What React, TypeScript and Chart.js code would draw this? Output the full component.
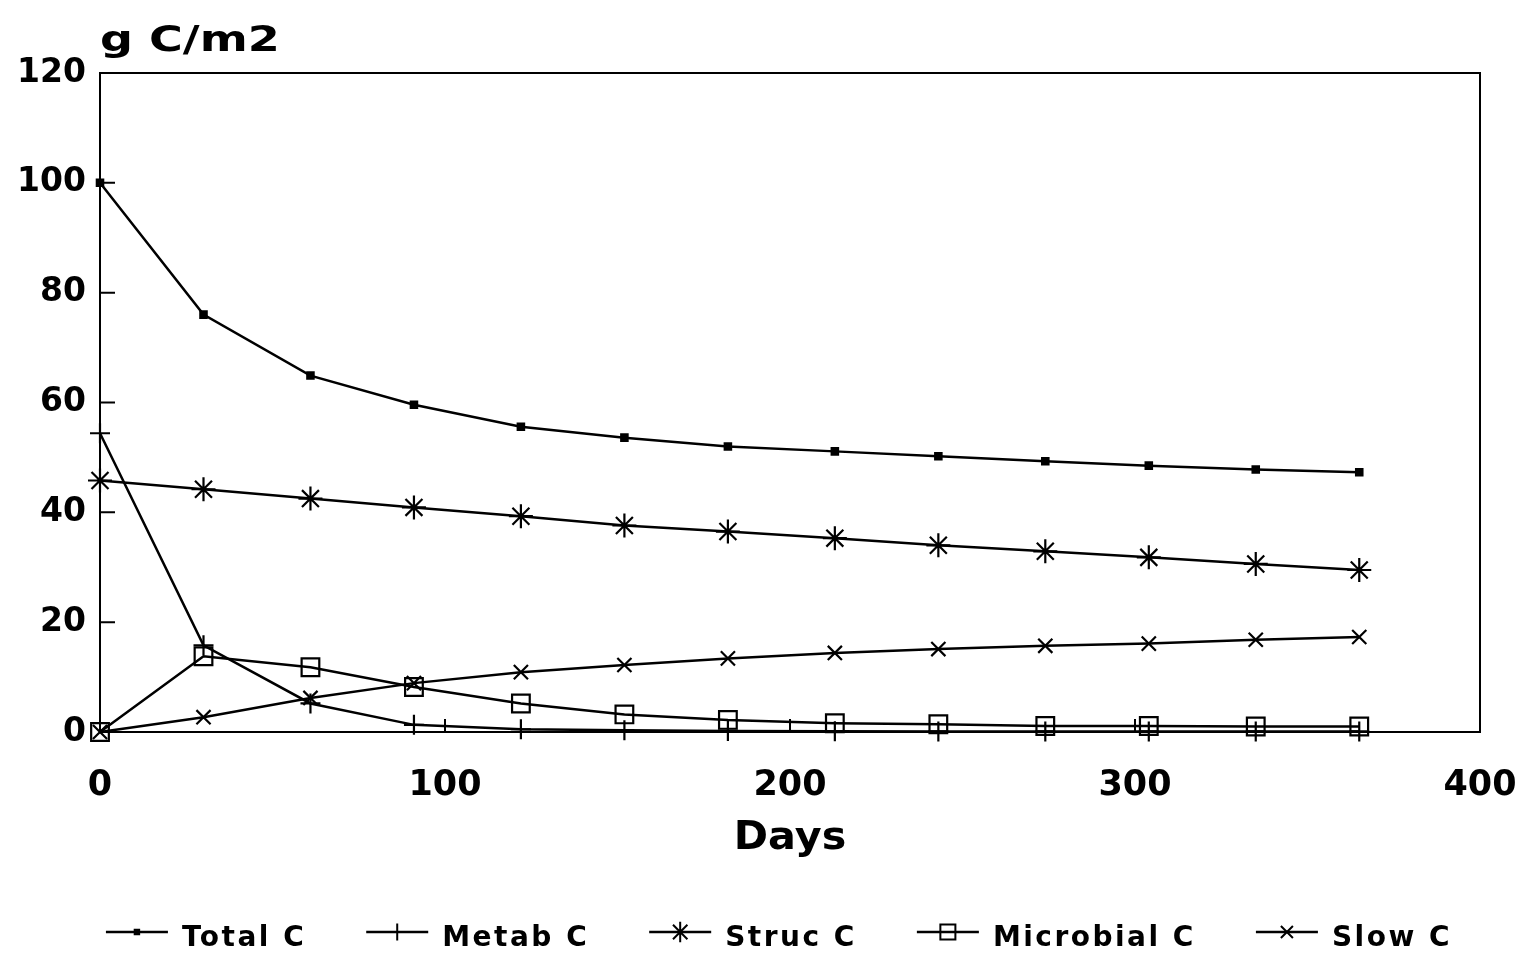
import React, { useEffect, useRef } from 'react';
import { Chart, registerables } from 'chart.js';
import { drawPoint } from 'chart.js/helpers';

Chart.register(...registerables);

// ---- data ----
const days = [0, 30, 61, 91, 122, 152, 182, 213, 243, 274, 304, 335, 365];
const totalC = [100, 76.0, 64.9, 59.6, 55.6, 53.6, 52.0, 51.1, 50.2, 49.3, 48.5, 47.8, 47.3];
const metabC = [54.4, 15.8, 5.2, 1.3, 0.5, 0.3, 0.2, 0.15, 0.1, 0.1, 0.1, 0.1, 0.1];
const strucC = [45.8, 44.2, 42.5, 40.9, 39.3, 37.6, 36.5, 35.3, 34.0, 32.9, 31.8, 30.6, 29.5];
const microbialC = [0, 13.8, 11.8, 8.2, 5.2, 3.2, 2.2, 1.6, 1.4, 1.1, 1.1, 1.0, 1.0];
const slowC = [0, 2.7, 6.2, 8.9, 10.9, 12.2, 13.4, 14.4, 15.1, 15.7, 16.1, 16.8, 17.3];

const seriesNames = ['Total C', 'Metab C', 'Struc C', 'Microbial C', 'Slow C'];
const yTicks = [0, 20, 40, 60, 80, 100, 120];
const xTicks = [0, 100, 200, 300, 400];
const yTitle = 'g C/m2';
const xTitle = 'Days';

const FONT = "'DejaVu Sans', sans-serif";

type Marker = { pointStyle: string; radius: number; fill: string };
const markers: Marker[] = [
  { pointStyle: 'rect', radius: 4.5, fill: '#000' },
  { pointStyle: 'cross', radius: 10, fill: 'rgba(0,0,0,0)' },
  { pointStyle: 'star', radius: 12, fill: 'rgba(0,0,0,0)' },
  { pointStyle: 'rect', radius: 12.5, fill: 'rgba(0,0,0,0)' },
  { pointStyle: 'crossRot', radius: 10, fill: 'rgba(0,0,0,0)' },
];

const seriesValues = [totalC, metabC, strucC, microbialC, slowC];

const decorPlugin = {
  id: 'decor',
  beforeDatasetsDraw(chart: any) {
    const { ctx, chartArea: a, scales } = chart;
    ctx.save();
    ctx.strokeStyle = '#000';
    ctx.lineWidth = 2;
    ctx.strokeRect(a.left, a.top, a.right - a.left, a.bottom - a.top);
    ctx.beginPath();
    for (const v of yTicks) {
      if (v === yTicks[0] || v === yTicks[yTicks.length - 1]) continue;
      const y = scales.y.getPixelForValue(v);
      ctx.moveTo(a.left, y);
      ctx.lineTo(a.left + 15, y);
    }
    for (const v of xTicks) {
      if (v === xTicks[0] || v === xTicks[xTicks.length - 1]) continue;
      const x = scales.x.getPixelForValue(v);
      ctx.moveTo(x, a.bottom);
      ctx.lineTo(x, a.bottom - 13);
    }
    ctx.stroke();
    ctx.restore();
  },
  afterDraw(chart: any) {
    const { ctx, chartArea: a } = chart;
    ctx.save();
    ctx.fillStyle = '#000';
    ctx.textBaseline = 'alphabetic';

    // y title
    ctx.font = `bold 36px ${FONT}`;
    ctx.textAlign = 'left';
    ctx.save();
    ctx.translate(a.left, 51);
    ctx.scale(1.28, 1);
    ctx.fillText(yTitle, 0, 0);
    ctx.restore();

    // x title
    ctx.font = `bold 39px ${FONT}`;
    ctx.textAlign = 'center';
    ctx.save();
    ctx.translate((a.left + a.right) / 2, 849);
    ctx.scale(1.06, 1);
    ctx.fillText(xTitle, 0, 0);
    ctx.restore();

    // legend
    ctx.font = `bold 28px ${FONT}`;
    (ctx as any).letterSpacing = '2.5px';
    ctx.textAlign = 'left';
    const lineLen = 62;
    const gapText = 14;
    const gapItem = 60;
    const widths = seriesNames.map((n) => ctx.measureText(n).width);
    const total = widths.reduce((s, w) => s + lineLen + gapText + w, 0) + gapItem * (seriesNames.length - 1);
    let x = 779 - total / 2;
    const ly = 932;
    const ty = 946;
    seriesNames.forEach((name, i) => {
      ctx.strokeStyle = '#000';
      ctx.lineWidth = 2.5;
      ctx.beginPath();
      ctx.moveTo(x, ly);
      ctx.lineTo(x + lineLen, ly);
      ctx.stroke();
      const m = markers[i];
      ctx.fillStyle = m.fill;
      ctx.strokeStyle = '#000';
      ctx.lineWidth = 2;
      const r = i === 0 ? m.radius * 0.7 : m.radius * 0.85;
      drawPoint(ctx, { pointStyle: m.pointStyle as any, rotation: 0, radius: r, borderWidth: 2 } as any, x + lineLen / 2, ly);
      ctx.fillStyle = '#000';
      ctx.fillText(name, x + lineLen + gapText, ty);
      x += lineLen + gapText + widths[i] + gapItem;
    });
    ctx.restore();
  },
};

export default function App() {
  const ref = useRef<HTMLCanvasElement | null>(null);
  useEffect(() => {
    if (!ref.current) return;
    const datasets = seriesNames.map((name, i) => ({
      label: name,
      data: days.map((d, k) => ({ x: d, y: seriesValues[i][k] })),
      borderColor: '#000',
      borderWidth: 2.5,
      backgroundColor: markers[i].fill,
      pointStyle: markers[i].pointStyle as any,
      pointRadius: markers[i].radius,
      pointBorderWidth: 2.2,
      pointBorderColor: '#000',
      pointBackgroundColor: markers[i].fill,
      tension: 0,
      fill: false,
      clip: false as any,
    }));
    const chart = new Chart(ref.current, {
      type: 'line',
      data: { datasets },
      options: {
        animation: false,
        responsive: false,
        maintainAspectRatio: false,
        layout: { padding: { left: 0, top: 73, right: 58, bottom: 0 } },
        plugins: { legend: { display: false }, tooltip: { enabled: false }, title: { display: false } },
        scales: {
          x: {
            type: 'linear',
            min: xTicks[0],
            max: xTicks[xTicks.length - 1],
            afterBuildTicks: (s: any) => { s.ticks = xTicks.map((v) => ({ value: v })); },
            afterFit: (s: any) => { s.height = 227; s.paddingLeft = 0; s.paddingRight = 0; },
            grid: { display: false, drawTicks: false },
            border: { display: false },
            ticks: { color: '#000', font: { family: FONT, size: 35, weight: 'bold' }, padding: 33, maxRotation: 0 },
          },
          y: {
            type: 'linear',
            min: yTicks[0],
            max: yTicks[yTicks.length - 1],
            afterBuildTicks: (s: any) => { s.ticks = yTicks.map((v) => ({ value: v })); },
            afterFit: (s: any) => { s.width = 100; s.paddingTop = 0; s.paddingBottom = 0; },
            grid: { display: false, drawTicks: false },
            border: { display: false },
            ticks: { color: '#000', font: { family: FONT, size: 33, weight: 'bold' }, padding: 14 },
          },
        },
      },
      plugins: [decorPlugin],
    });
    return () => chart.destroy();
  }, []);
  return (
    <div style={{ position: 'fixed', left: 0, top: 0, width: 1538, height: 959, background: '#fff' }}>
      <canvas ref={ref} width={1538} height={959} style={{ display: 'block' }} />
    </div>
  );
}
